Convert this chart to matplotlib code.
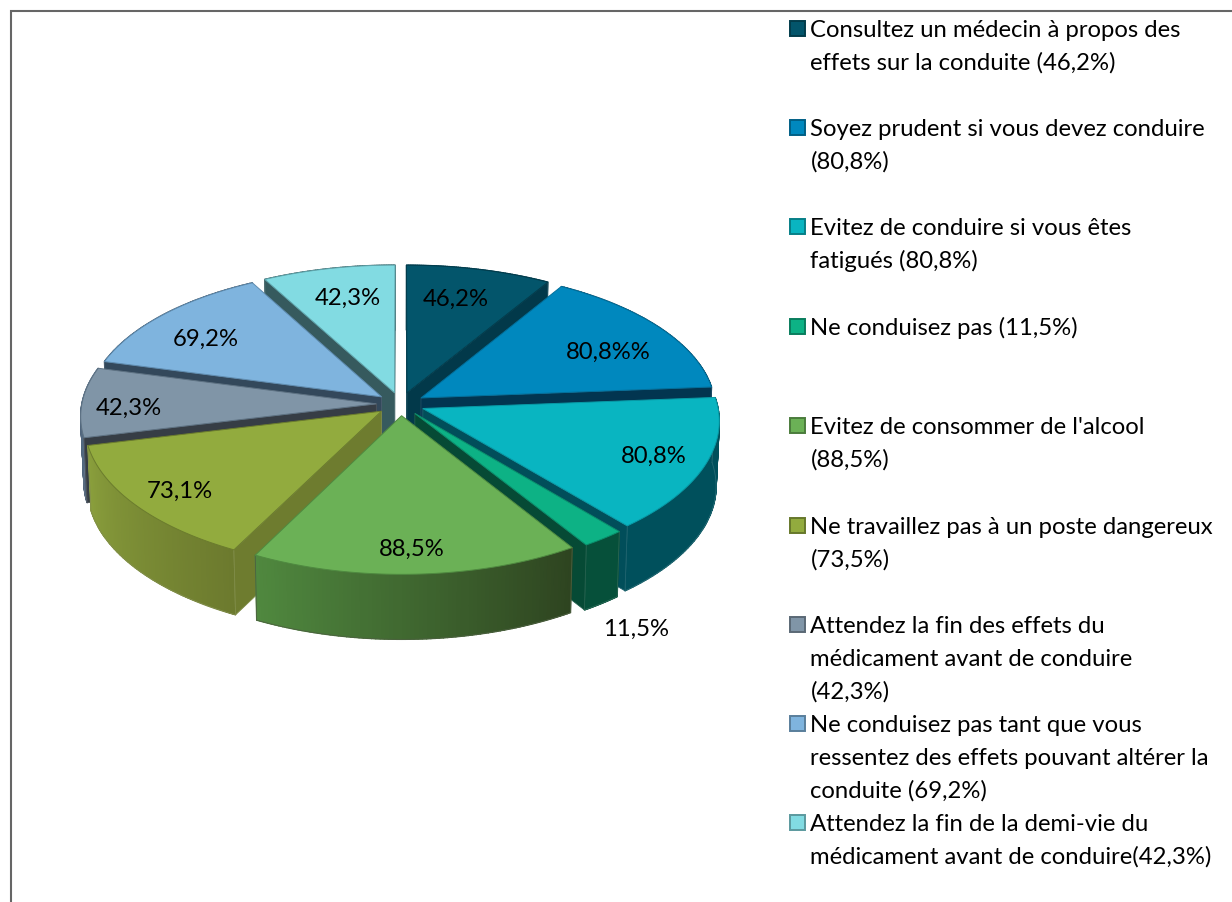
import numpy as np
import matplotlib
matplotlib.use("Agg")
import matplotlib.pyplot as plt
from matplotlib.patches import Polygon
from matplotlib.colors import to_rgb

# ---- data ----
values = [46.2, 80.8, 80.8, 11.5, 88.5, 73.1, 42.3, 69.2, 42.3]
data_labels = ["46,2%", "80,8%%", "80,8%", "11,5%", "88,5%", "73,1%", "42,3%", "69,2%", "42,3%"]
legend_lines = [
    ["Consultez un médecin à propos des", "effets sur la conduite (46,2%)"],
    ["Soyez prudent si vous devez conduire", "(80,8%)"],
    ["Evitez de conduire si vous êtes", "fatigués (80,8%)"],
    ["Ne conduisez pas (11,5%)"],
    ["Evitez de consommer de l'alcool", "(88,5%)"],
    ["Ne travaillez pas à un poste dangereux", "(73,5%)"],
    ["Attendez la fin des effets du", "médicament avant de conduire", "(42,3%)"],
    ["Ne conduisez pas tant que vous", "ressentez des effets pouvant altérer la", "conduite (69,2%)"],
    ["Attendez la fin de la demi-vie du", "médicament avant de conduire(42,3%)"],
]

# ---- styles ----
top_colors = ["#03556B", "#0088BE", "#09B5C1", "#0DB285", "#6BB156", "#92AB3E", "#8095A7", "#7FB4DE", "#82DBE2"]
face_colors = ["#02394A", "#023550", "#014E5A", "#064A35", "#2E4420", "#6E7C2F", "#363D45", "#33485B", "#365A5E"]
wall_start = ["#023F50", "#023F5C", "#00505C", "#06503A", "#2E4420", "#6C7A2E", "#4A5D72", "#33485B", "#365A5E"]
wall_end = ["#023F50", "#023F5C", "#00505C", "#06503A", "#50893F", "#8A9F3C", "#5F7A94", "#33485B", "#365A5E"]
edge_colors = ["#023C4C", "#02709C", "#089AA6", "#0A8F6C", "#4F8A40", "#6B7C2D", "#5E7283", "#5F8CB0", "#5FA5AC"]
draw_order = [0, 8, 1, 7, 6, 2, 5, 3, 4]
label_xy = [(456, 298), (608, 351), (654, 455), (636, 628), (412, 548), (180, 490), (129, 407), (206, 338), (348, 297)]
legend_baselines = [37, 136, 235, 335, 434, 534, 633, 732, 831]

CX, CY, RX, RY, PX, PY, DEPTH, EXPLODE = 400.5, 405.0, 294.5, 141.6, 0.082, 0.093, 65.0, 0.082
LINE_H = 33
FONT = "Lato"
FS = 17.2

plt.rcParams["font.family"] = [FONT, "DejaVu Sans"]
fig = plt.figure(figsize=(12.32, 9.03), dpi=100)
ax = fig.add_axes([0, 0, 1, 1])
ax.set_xlim(0, 1232)
ax.set_ylim(903, 0)
ax.axis("off")


def project(X, Y, low=False):
    sx = RX * X / (1 + PX * Y)
    sy = -RY * Y / (1 + PY * Y)
    if low:
        return CX + sx * 0.99, CY + sy + DEPTH
    return CX + sx, CY + sy


def mix(a, b, f):
    a, b = np.array(to_rgb(a)), np.array(to_rgb(b))
    return tuple(a + (b - a) * f)


angles = np.cumsum([0] + values) / np.sum(values) * 2 * np.pi

# border
ax.plot([11, 11, 1232], [903, 12, 12], color="#666666", lw=1.5, solid_joinstyle="miter", zorder=1)

z = 2
for i in draw_order:
    t0, t1 = angles[i], angles[i + 1]
    tm = (t0 + t1) / 2
    ox, oy = EXPLODE * np.sin(tm), EXPLODE * np.cos(tm)
    ts = np.linspace(t0, t1, 80)
    arcX, arcY = ox + np.sin(ts), oy + np.cos(ts)
    top_arc = np.array([project(a, b) for a, b in zip(arcX, arcY)])
    low_arc = np.array([project(a, b, True) for a, b in zip(arcX, arcY)])
    apex = np.array(project(ox, oy))
    apex_low = np.array(project(ox, oy, True))
    inner = top_arc[len(ts) // 2]

    # outer wall, shaded along the arc
    n = len(ts) - 1
    for j in range(n):
        col = mix(wall_start[i], wall_end[i], j / n)
        ax.add_patch(Polygon([top_arc[j], top_arc[j + 1], low_arc[j + 1], low_arc[j]], closed=True,
                             facecolor=col, edgecolor=col, lw=1.0, zorder=z))
    z += 1
    ax.plot(low_arc[:, 0], low_arc[:, 1], color=mix(wall_start[i], "#ffffff", 0.15), lw=0.6, zorder=z)
    for k in (0, -1):
        ax.plot([top_arc[k, 0], low_arc[k, 0]], [top_arc[k, 1], low_arc[k, 1]],
                color=mix(face_colors[i], "#ffffff", 0.15), lw=0.6, zorder=z)
    z += 1

    # radial faces (only those turned towards the viewer)
    for k in (0, -1):
        edge = top_arc[k] - apex
        c = inner - apex
        side_inner = edge[0] * c[1] - edge[1] * c[0]
        side_down = edge[0]
        if side_inner * side_down < 0:
            ax.add_patch(Polygon([apex, top_arc[k], low_arc[k], apex_low], closed=True,
                                 facecolor=face_colors[i], edgecolor=mix(face_colors[i], "#ffffff", 0.12),
                                 lw=0.6, zorder=z))
            z += 1

    # top face
    ax.add_patch(Polygon(np.vstack([apex, top_arc]), closed=True, facecolor=top_colors[i],
                         edgecolor=edge_colors[i], lw=0.7, zorder=z))
    z += 1

for (x, y), s in zip(label_xy, data_labels):
    ax.text(x, y + 8, s, ha="center", va="baseline", fontsize=FS, color="#000000", zorder=z)

for lines, base, col in zip(legend_lines, legend_baselines, top_colors):
    ax.add_patch(Polygon([(790, base - 15), (805, base - 15), (805, base), (790, base)], closed=True,
                         facecolor=col, edgecolor=mix(col, "#000000", 0.3), lw=1.4, zorder=z))
    for n, line in enumerate(lines):
        ax.text(810.5, base + n * LINE_H, line, ha="left", va="baseline", fontsize=FS,
                color="#000000", zorder=z)

fig.savefig("out.png", dpi=100, facecolor="white")
